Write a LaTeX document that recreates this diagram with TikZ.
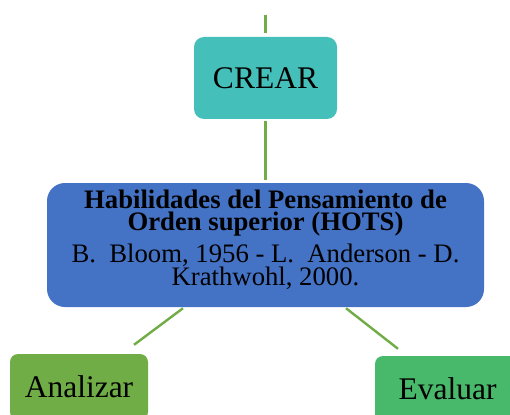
\documentclass[tikz,border=0pt]{standalone}
\usepackage{fontspec}
\setmainfont{Liberation Serif}
\usetikzlibrary{calc}
\definecolor{crearc}{RGB}{69,191,185}
\definecolor{hotsc}{RGB}{68,114,196}
\definecolor{analc}{RGB}{112,173,71}
\definecolor{evalc}{RGB}{72,184,106}
\definecolor{linec}{RGB}{112,173,71}
\tikzset{
  box/.style={draw=none, inner sep=0pt, font=\fontsize{31.5}{34}\selectfont},
  conn/.style={draw=linec, line width=2.4pt},
}
\begin{document}
\begin{tikzpicture}[x=1pt,y=-1pt]
\useasboundingbox (0,0) rectangle (510,414);
\clip (0,0) rectangle (510,414);
\node[box, fill=crearc, rounded corners=10pt, minimum width=143pt, minimum height=82pt] (crear) at (265.5,78) {CREAR};
\node[box, fill=hotsc, rounded corners=18pt, minimum width=437pt, minimum height=124pt] (hots) at (265.5,245) {};
\node[inner sep=0pt, align=center, font=\fontsize{26.7}{22.5}\selectfont\bfseries] (hotsa) at (265.5,213) {Habilidades del Pensamiento de\\Orden superior (HOTS)};
\node[inner sep=0pt, align=center, font=\fontsize{26.7}{23}\selectfont] (hotsb) at (265.5,267) {B.\ \ Bloom, 1956 - L.\ \ Anderson - D.\\Krathwohl, 2000.};
\node[box, fill=analc, rounded corners=8pt, minimum width=138pt, minimum height=66pt] (anal) at (79,387) {Analizar};
\node[box, fill=evalc, rounded corners=8pt, minimum width=145pt, minimum height=66pt] (eval) at (447.5,389) {Evaluar};
\coordinate (top) at (265.5,15);
\draw[conn] (top) -- ($(crear.north)+(0,-4)$);
\draw[conn] ($(crear.south)+(0,2)$) -- ($(hots.north)+(0,-3)$);
\draw[conn] ($(hots.south)+(-82.5,1)$) -- ($(anal.north)+(55,-9)$);
\draw[conn] ($(hots.south)+(80.5,1)$) -- ($(eval.north)+(-49.5,-7)$);
\end{tikzpicture}
\end{document}
